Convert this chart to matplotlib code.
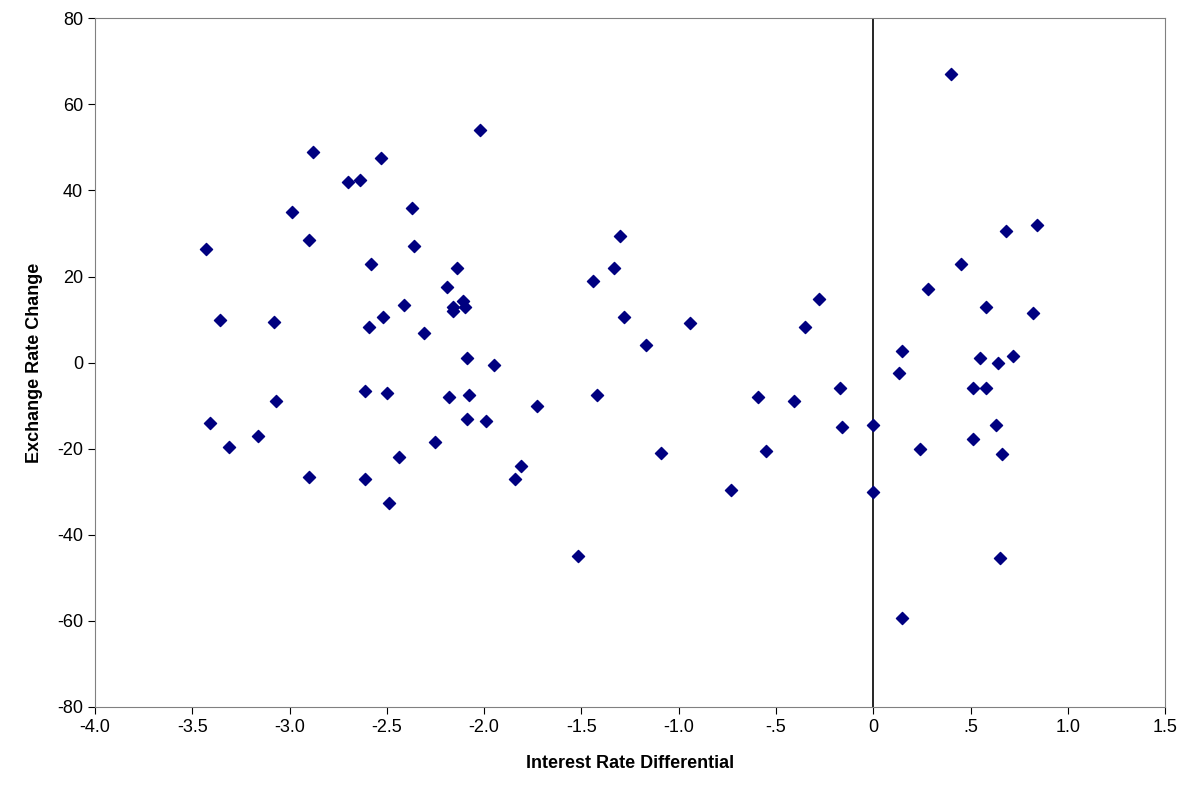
import matplotlib
matplotlib.use("Agg")
import matplotlib.pyplot as plt

plt.rcParams['font.family'] = ['Liberation Sans', 'DejaVu Sans']
plt.rcParams['axes.unicode_minus'] = False

# interest rate differential vs exchange rate change
xdata = [-3.43, -3.36, -3.41, -3.31, -3.16, -3.08, -3.07, -2.99, -2.90, -2.90,
         -2.88, -2.70, -2.64, -2.61, -2.61, -2.59, -2.58, -2.53, -2.52, -2.50,
         -2.49, -2.44, -2.41, -2.37, -2.36, -2.31, -2.25, -2.19, -2.18, -2.16,
         -2.16, -2.14, -2.11, -2.10, -2.09, -2.09, -2.08, -2.02, -1.99, -1.95,
         -1.84, -1.81, -1.73, -1.52, -1.44, -1.42, -1.33, -1.30, -1.28, -1.17,
         -1.09, -0.94, -0.73, -0.59, -0.55, -0.41, -0.35, -0.28, -0.17, -0.16,
         0.0, 0.0, 0.13, 0.15, 0.15, 0.24, 0.28, 0.40, 0.45, 0.51,
         0.51, 0.55, 0.58, 0.58, 0.63, 0.64, 0.65, 0.66, 0.68, 0.72,
         0.82, 0.84]
ydata = [26.3, 10, -14, -19.5, -17, 9.5, -9, 35, 28.5, -26.5,
         49, 42, 42.5, -6.5, -27, 8.3, 23, 47.5, 10.5, -7,
         -32.5, -22, 13.5, 36, 27.2, 7, -18.5, 17.5, -8, 12,
         13, 22, 14.3, 13, 1, -13, -7.5, 54, -13.5, -0.5,
         -27, -24, -10, -45, 19, -7.5, 22, 29.5, 10.5, 4,
         -21, 9.2, -29.7, -8, -20.5, -9, 8.2, 14.8, -6, -15,
         -14.5, -30, -2.5, 2.7, -59.3, -20, 17, 67, 23, -6,
         -17.7, 1, -6, 13, -14.5, 0, -45.3, -21.3, 30.5, 1.5,
         11.5, 32]

xticks = [-4.0, -3.5, -3.0, -2.5, -2.0, -1.5, -1.0, -0.5, 0, 0.5, 1.0, 1.5]
xlabels = ['-4.0', '-3.5', '-3.0', '-2.5', '-2.0', '-1.5', '-1.0', '-.5', '0', '.5', '1.0', '1.5']
yticks = [-80, -60, -40, -20, 0, 20, 40, 60, 80]

fig = plt.figure(figsize=(11.95, 7.97), dpi=100)
ax = fig.add_axes([0.0795, 0.113, 0.8955, 0.864])
ax.scatter(xdata, ydata, marker='D', s=38, color='#000080', zorder=3)
ax.axvline(0, color='black', lw=1.2, zorder=2)
ax.set_xlim(-4, 1.5)
ax.set_ylim(-80, 80)
ax.set_xticks(xticks)
ax.set_xticklabels(xlabels)
ax.set_yticks(yticks)
ax.tick_params(labelsize=13, direction='out', length=5)
for s in ax.spines.values():
    s.set_color('#808080')
ax.set_xlabel('Interest Rate Differential', fontsize=13, fontweight='bold', labelpad=14)
ax.set_ylabel('Exchange Rate Change', fontsize=13, fontweight='bold', labelpad=10)
fig.savefig('out.png', dpi=100)
